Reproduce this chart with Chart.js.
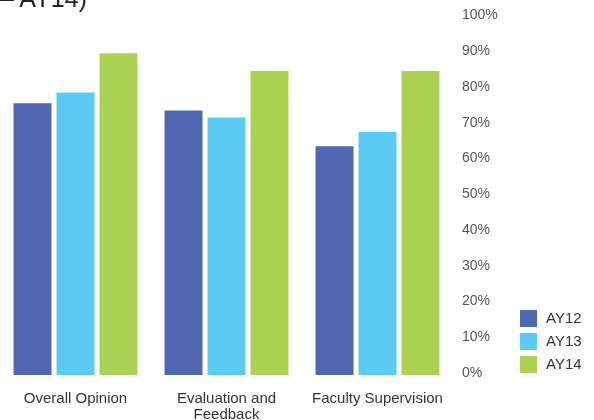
<!DOCTYPE html>
<html>
<head>
<meta charset="utf-8">
<script src="https://cdn.jsdelivr.net/npm/chart.js@4/dist/chart.umd.min.js"></script>
<style>
  html, body { margin: 0; padding: 0; background: #fff; }
  #wrap { position: relative; width: 594px; height: 420px; overflow: hidden; }
  #title {
    position: absolute; right: 507px; top: -14px;
    font: 25px "Liberation Sans", Arial, sans-serif; line-height: 25px;
    color: #222; white-space: nowrap;
  }
</style>
</head>
<body>
<div id="wrap">
  <div id="title">Student Satisfaction (AY12 – AY14)</div>
  <canvas id="chart" width="594" height="420"></canvas>
</div>
<script>
const categories = ['Overall Opinion', ['Evaluation and', 'Feedback'], 'Faculty Supervision'];
const seriesNames = ['AY12', 'AY13', 'AY14'];
const ay12 = [76, 74, 64];
const ay13 = [79, 72, 68];
const ay14 = [90, 85, 85];
const yTicks = [0, 10, 20, 30, 40, 50, 60, 70, 80, 90, 100];
const colors = ['#5067B2', '#5CCBF4', '#ACD254'];

// legend drawn by hand at the bottom right
const boxLegend = {
  id: 'boxLegend',
  afterDraw(chart) {
    const ctx = chart.ctx;
    ctx.save();
    ctx.font = '15px "Liberation Sans", Arial, sans-serif';
    ctx.textBaseline = 'middle';
    chart.data.datasets.forEach((ds, i) => {
      const y = 310 + i * 23;
      ctx.fillStyle = ds.backgroundColor;
      ctx.fillRect(520, y, 17, 17);
      ctx.fillStyle = '#333';
      ctx.fillText(ds.label, 546, y + 9);
    });
    ctx.restore();
  }
};

new Chart(document.getElementById('chart'), {
  type: 'bar',
  data: {
    labels: categories,
    datasets: [
      { label: seriesNames[0], data: ay12, backgroundColor: colors[0] },
      { label: seriesNames[1], data: ay13, backgroundColor: colors[1] },
      { label: seriesNames[2], data: ay14, backgroundColor: colors[2] }
    ]
  },
  options: {
    responsive: false,
    animation: false,
    layout: { padding: { left: 0, right: 0, top: 17, bottom: 0 } },
    categoryPercentage: 0.854,
    barPercentage: 0.884,
    plugins: { legend: { display: false }, tooltip: { enabled: false } },
    scales: {
      x: {
        grid: { display: false, drawTicks: false },
        border: { display: false },
        ticks: {
          color: '#333', padding: 16, maxRotation: 0, autoSkip: false,
          font: { family: '"Liberation Sans", Arial, sans-serif', size: 15, lineHeight: 1.07 }
        },
        afterFit: s => { s.height = 45; }
      },
      y: {
        position: 'right',
        min: 0, max: 100,
        afterBuildTicks: s => { s.ticks = yTicks.map(v => ({ value: v })); },
        grid: { display: false, drawTicks: false },
        border: { display: false },
        ticks: {
          color: '#555', padding: 9, labelOffset: -2,
          font: { family: '"Liberation Sans", Arial, sans-serif', size: 14 },
          callback: v => v + '%'
        },
        afterFit: s => { s.width = 141; }
      }
    }
  },
  plugins: [boxLegend]
});
</script>
</body>
</html>
